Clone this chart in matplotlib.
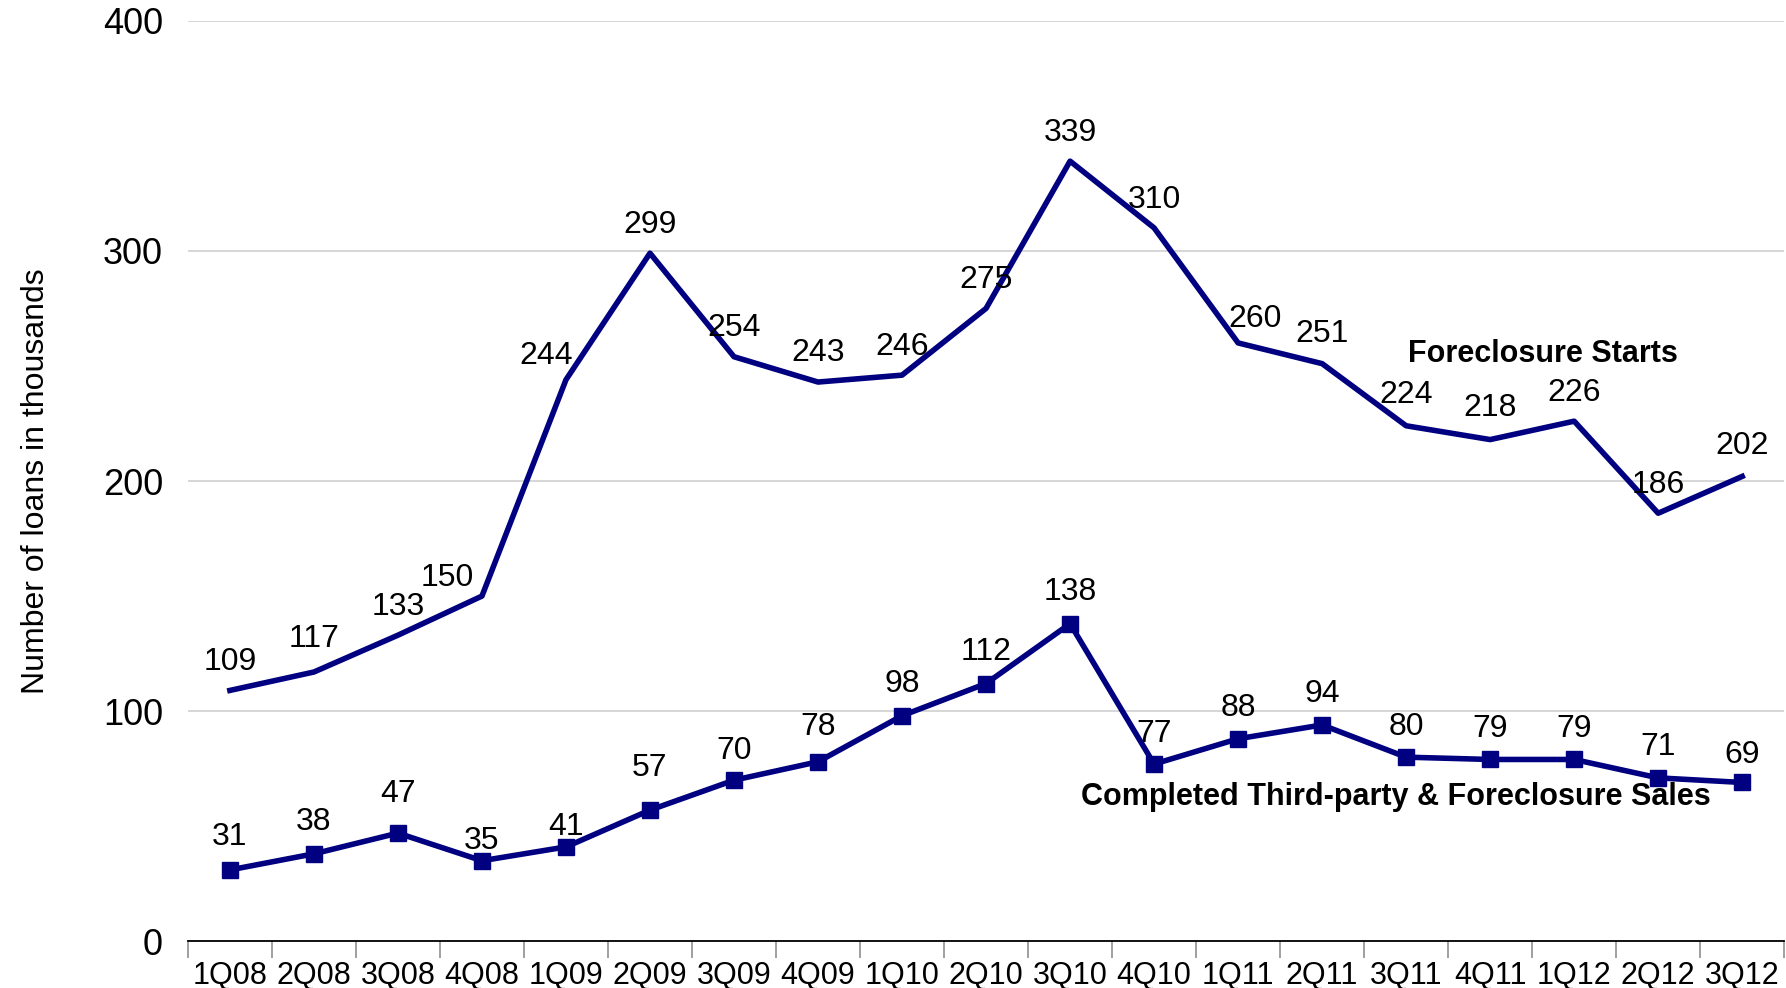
import matplotlib
matplotlib.use("Agg")
import matplotlib.pyplot as plt
from matplotlib import font_manager
from matplotlib.ticker import FixedLocator

quarters = ["1Q08", "2Q08", "3Q08", "4Q08", "1Q09", "2Q09", "3Q09", "4Q09", "1Q10", "2Q10",
            "3Q10", "4Q10", "1Q11", "2Q11", "3Q11", "4Q11", "1Q12", "2Q12", "3Q12"]
starts = [109, 117, 133, 150, 244, 299, 254, 243, 246, 275, 339, 310, 260, 251, 224, 218, 226, 186, 202]
sales = [31, 38, 47, 35, 41, 57, 70, 78, 98, 112, 138, 77, 88, 94, 80, 79, 79, 71, 69]
yticks = [0, 100, 200, 300, 400]

names = {f.name for f in font_manager.fontManager.ttflist}
narrow = "Liberation Sans Narrow" if "Liberation Sans Narrow" in names else "Liberation Sans"
fam = [narrow, "DejaVu Sans"]
plt.rcParams["font.family"] = ["Liberation Sans", "DejaVu Sans"]

navy = "#000080"
fig = plt.figure(figsize=(17.86, 9.88), dpi=100)
ax = fig.add_axes([0.1052, 0.0473, 0.8938, 0.9317])

x = list(range(len(quarters)))
ax.plot(x, starts, color=navy, lw=4.0, zorder=3)
ax.plot(x, sales, color=navy, lw=4.0, marker="s", ms=12, zorder=3)

# label centre offsets in points (dx, dy)
s_off = [(0, 20.5), (0, 24), (0, 20), (-25, 13), (-14, 17), (0, 20.5), (0, 20.5), (0, 21),
         (0, 20.5), (0, 20.5), (0, 20), (0, 20), (12, 17), (0, 21), (0, 22), (0, 23),
         (0, 20), (0, 20.5), (0, 22)]
l_off = [(0, 24), (0, 23), (0, 28), (0, 14), (0, 14), (0, 30), (0, 21), (0, 25), (0, 23),
         (0, 23), (0, 23), (0, 22), (0, 22), (0, 22), (0, 22), (0, 22), (0, 22), (0, 22),
         (0, 20)]

for i, v in enumerate(starts):
    ax.annotate(str(v), (i, v), xytext=s_off[i], textcoords="offset points",
                ha="center", va="center", fontsize=23, family=fam)
for i, v in enumerate(sales):
    ax.annotate(str(v), (i, v), xytext=l_off[i], textcoords="offset points",
                ha="center", va="center", fontsize=23, family=fam)

ax.text(15.63, 255, "Foreclosure Starts", ha="center", va="center", fontsize=22,
        fontweight="bold", family=fam)
ax.text(13.88, 62.5, "Completed Third-party & Foreclosure Sales", ha="center", va="center",
        fontsize=22, fontweight="bold", family=fam)

ax.set_xlim(-0.5, len(quarters) - 0.5)
ax.set_ylim(0, 400)
ax.set_yticks(yticks)
ax.set_yticklabels([str(t) for t in yticks], fontsize=26, family=fam)
ax.set_xticks(x)
ax.set_xticklabels(quarters, fontsize=22, family=fam)
ax.xaxis.set_minor_locator(FixedLocator([i - 0.5 for i in range(len(quarters) + 1)]))
ax.tick_params(axis="x", which="major", length=0, pad=14)
ax.tick_params(axis="x", which="minor", length=12, width=1.2, color="#909090")
ax.tick_params(axis="y", length=0, pad=18)
ax.grid(axis="y", color="#d0d0d0", lw=1.2, zorder=0)
for s in ["top", "right", "left"]:
    ax.spines[s].set_visible(False)
ax.spines["bottom"].set_color("black")
ax.spines["bottom"].set_linewidth(1.3)
ax.set_ylabel("Number of loans in thousands", fontsize=23)
ax.yaxis.set_label_coords(-0.086, 0.5)

fig.savefig("out.png", dpi=100)
